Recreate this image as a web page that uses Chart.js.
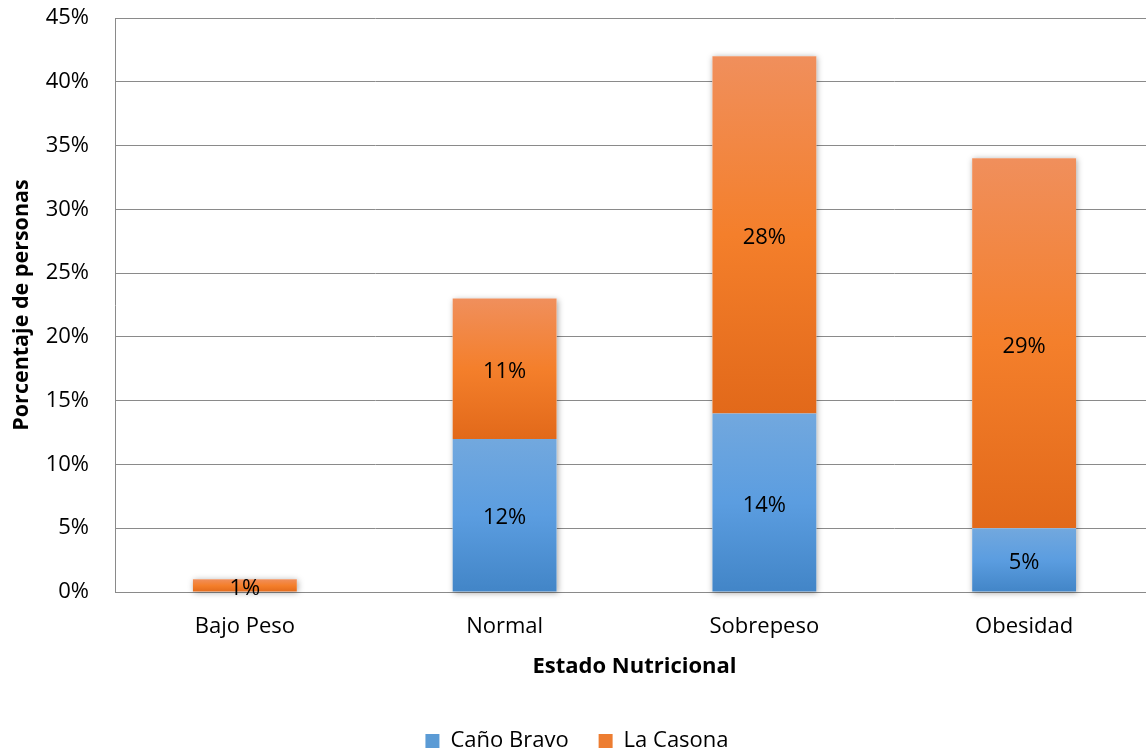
<!DOCTYPE html>
<html lang="es">
<head>
<meta charset="utf-8">
<title>Estado Nutricional</title>
<script src="https://cdn.jsdelivr.net/npm/chart.js@4.4.1/dist/chart.umd.min.js"></script>
<style>
  html, body { margin: 0; padding: 0; background: #ffffff; overflow: hidden; }
  #wrap { position: relative; width: 1154px; height: 750px; }
</style>
</head>
<body>
<div id="wrap"><canvas id="chart"></canvas></div>
<script>
// Estado nutricional por comunidad (porcentaje de personas)
const categories = ['Bajo Peso', 'Normal', 'Sobrepeso', 'Obesidad'];
const canoBravo = [0, 12, 14, 5];
const laCasona = [1, 11, 28, 29];
const seriesNames = ['Caño Bravo', 'La Casona'];
const yAxisMax = 45;
const yAxisStep = 5;

const FONT = '"Open Sans", "Liberation Sans", sans-serif';
const GRID = '#8a8a8a';

const blueStops = [[0, '#72a8de'], [0.5, '#5b9de0'], [1, '#4285c7']];
const orangeStops = [[0, '#f08f5c'], [0.5, '#f47f2b'], [1, '#e2691a']];

// Vertical gradient spanning one stacked segment
function segmentFill(stops) {
  return function (ctx) {
    const chart = ctx.chart;
    const fallback = stops[1][1];
    if (!chart.chartArea || ctx.type !== 'data') return fallback;
    const y = chart.scales.y;
    const i = ctx.dataIndex;
    let base = 0;
    for (let k = 0; k < ctx.datasetIndex; k++) base += chart.data.datasets[k].data[i];
    const top = base + chart.data.datasets[ctx.datasetIndex].data[i];
    const y0 = y.getPixelForValue(top);
    const y1 = y.getPixelForValue(base);
    if (!isFinite(y0) || !isFinite(y1) || y1 - y0 < 1) return fallback;
    const g = chart.ctx.createLinearGradient(0, y0, 0, y1);
    stops.forEach(([o, c]) => g.addColorStop(o, c));
    return g;
  };
}

// Soft shadow behind each full stack
const barShadow = {
  id: 'barShadow',
  beforeDatasetsDraw(chart) {
    const ctx = chart.ctx;
    const metas = chart.getSortedVisibleDatasetMetas();
    ctx.save();
    ctx.shadowColor = 'rgba(0,0,0,0.35)';
    ctx.shadowBlur = 6;
    ctx.shadowOffsetX = 1;
    ctx.shadowOffsetY = 1;
    ctx.fillStyle = '#ffffff';
    for (let i = 0; i < chart.data.labels.length; i++) {
      let top = Infinity, bottom = -Infinity, left = 0, right = 0;
      metas.forEach(m => {
        const el = m.data[i];
        if (!el) return;
        const p = el.getProps(['x', 'y', 'base', 'width'], true);
        if (Math.abs(p.base - p.y) < 0.5) return;
        top = Math.min(top, p.y);
        bottom = Math.max(bottom, p.base);
        left = p.x - p.width / 2;
        right = p.x + p.width / 2;
      });
      if (isFinite(top)) ctx.fillRect(left, top, right - left, bottom - top);
    }
    ctx.restore();
  }
};

// Value labels centred in each segment
const segmentLabels = {
  id: 'segmentLabels',
  afterDatasetsDraw(chart) {
    const ctx = chart.ctx;
    ctx.save();
    ctx.font = '22px ' + FONT;
    ctx.fillStyle = '#000000';
    ctx.textAlign = 'center';
    ctx.textBaseline = 'middle';
    chart.getSortedVisibleDatasetMetas().forEach(m => {
      const data = chart.data.datasets[m.index].data;
      m.data.forEach((el, i) => {
        if (!(data[i] > 0)) return;
        const p = el.getProps(['x', 'y', 'base'], true);
        ctx.fillText(data[i] + '%', p.x, (p.y + p.base) / 2 + 3);
      });
    });
    ctx.restore();
  }
};

// Legend band: fixed height, row set near the bottom edge
const LEGEND_HEIGHT = 70;
const LEGEND_SHIFT = 20;
const legendPlacement = {
  id: 'legendPlacement',
  beforeLayout(chart) {
    const lg = chart.legend;
    if (lg && !lg.__fixed) {
      const baseFit = lg.fit;
      lg.fit = function () { baseFit.call(this); this.height = LEGEND_HEIGHT; };
      lg.__fixed = true;
    }
  },
  afterLayout(chart) {
    if (chart.legend) {
      chart.legend.top += LEGEND_SHIFT;
      chart.legend.bottom += LEGEND_SHIFT;
    }
  }
};

const legendColors = ['#5b9bd5', '#ed7d31'];

new Chart(document.getElementById('chart'), {
  type: 'bar',
  data: {
    labels: categories,
    datasets: [
      { label: seriesNames[0], data: canoBravo, backgroundColor: segmentFill(blueStops), borderWidth: 0 },
      { label: seriesNames[1], data: laCasona, backgroundColor: segmentFill(orangeStops), borderWidth: 0 }
    ]
  },
  options: {
    responsive: true,
    maintainAspectRatio: false,
    animation: false,
    datasets: { bar: { categoryPercentage: 1, barPercentage: 0.4 } },
    layout: { padding: { top: 18, right: 0, bottom: 0, left: 0 } },
    scales: {
      x: {
        stacked: true,
        afterFit(scale) {
          scale.height = 88;
          scale.paddingLeft = 0;
          scale.paddingRight = 0;
        },
        grid: { display: false, drawTicks: false },
        border: { display: true, color: GRID, width: 1 },
        ticks: { color: '#000000', padding: 22, font: { family: FONT, size: 22 } },
        title: {
          display: true, text: 'Estado Nutricional', color: '#000000',
          font: { family: FONT, size: 22, weight: 'bold' },
          padding: { top: 12, bottom: 0 }
        }
      },
      y: {
        stacked: true,
        min: 0,
        max: yAxisMax,
        afterFit(scale) {
          scale.width = 115;
          scale.paddingTop = 0;
          scale.paddingBottom = 0;
        },
        grid: { color: GRID, lineWidth: 1, drawTicks: false },
        border: { display: true, color: GRID, width: 1 },
        ticks: {
          stepSize: yAxisStep, padding: 26, color: '#000000',
          font: { family: FONT, size: 22 },
          callback: v => v + '%'
        },
        title: {
          display: true, text: 'Porcentaje de personas', color: '#000000',
          font: { family: FONT, size: 21.5, weight: 'bold' },
          padding: { top: 9, bottom: 0 }
        }
      }
    },
    plugins: {
      tooltip: { enabled: false },
      legend: {
        position: 'bottom',
        labels: {
          color: '#000000',
          boxWidth: 14,
          boxHeight: 14,
          padding: 30,
          font: { family: FONT, size: 22 },
          generateLabels(chart) {
            return Chart.defaults.plugins.legend.labels.generateLabels(chart).map((item, k) => {
              item.fillStyle = legendColors[k];
              item.strokeStyle = legendColors[k];
              item.lineWidth = 0;
              return item;
            });
          }
        }
      }
    }
  },
  plugins: [barShadow, segmentLabels, legendPlacement]
});
</script>
</body>
</html>
